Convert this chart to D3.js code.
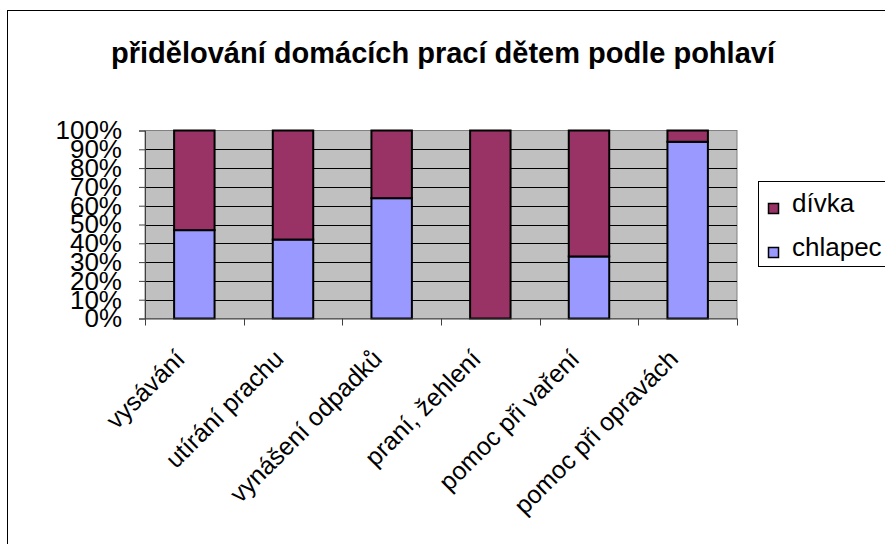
<!DOCTYPE html>
<html>
<head>
<meta charset="utf-8">
<script src="https://cdn.jsdelivr.net/npm/d3@7"></script>
<style>
  body { margin: 0; background: #fff; }
  text { font-family: "Liberation Sans", Arial, sans-serif; }
</style>
</head>
<body>
<div id="chart"></div>
<script>
const categories = ["vysávání", "utírání prachu", "vynášení odpadků", "praní, žehlení", "pomoc při vaření", "pomoc při opravách"];
const chlapec = [47, 42, 64, 0, 33, 94];
const divka = [53, 58, 36, 100, 67, 6];
const seriesNames = ["chlapec", "dívka"];
const yTicks = [0, 10, 20, 30, 40, 50, 60, 70, 80, 90, 100];

const COLORS = { "chlapec": "#9999FF", "dívka": "#993366" };

let width = 885;
let height = 544;

let svg = d3.select("#chart")
            .append("svg")
            .attr("width", width)
            .attr("height", height);

// outer chart frame (right and bottom edges run off the picture)
svg.append("rect")
   .attr("x", 7.5).attr("y", 10.5)
   .attr("width", 900).attr("height", 600)
   .attr("fill", "#fff")
   .attr("stroke", "#000");

svg.append("text")
   .attr("x", 443).attr("y", 63)
   .attr("text-anchor", "middle")
   .attr("font-size", "29px")
   .attr("font-weight", "bold")
   .text("přidělování domácích prací dětem podle pohlaví");

let plot = { left: 145, right: 737, top: 130.5, bottom: 318.5 };

let x = d3.scaleBand()
          .domain(categories)
          .range([plot.left, plot.right])
          .paddingInner(0.59)
          .paddingOuter(0.295);

let y = d3.scaleLinear()
          .domain([0, 100])
          .range([plot.bottom, plot.top]);

let rows = categories.map((c, i) => ({ cat: c, "chlapec": chlapec[i], "dívka": divka[i] }));
let stacked = d3.stack().keys(seriesNames)(rows);

// plot background
svg.append("rect")
   .attr("x", plot.left).attr("y", plot.top)
   .attr("width", plot.right - plot.left)
   .attr("height", plot.bottom - plot.top)
   .attr("fill", "#C0C0C0")
   .attr("stroke", "#808080");

// gridlines
svg.append("g")
   .selectAll("line")
   .data(yTicks.slice(1, -1))
   .enter()
   .append("line")
   .attr("x1", plot.left).attr("x2", plot.right)
   .attr("y1", d => Math.round(y(d)) + 0.5)
   .attr("y2", d => Math.round(y(d)) + 0.5)
   .attr("stroke", "#000");

// bars
svg.append("g")
   .selectAll("g")
   .data(stacked)
   .enter()
   .append("g")
   .attr("fill", d => COLORS[d.key])
   .selectAll("rect")
   .data(d => d)
   .enter()
   .append("rect")
   .attr("x", d => x(d.data.cat))
   .attr("y", d => y(d[1]))
   .attr("width", x.bandwidth())
   .attr("height", d => y(d[0]) - y(d[1]))
   .attr("stroke", "#000")
   .attr("stroke-width", 2);

// y axis
let yAxis = svg.append("g")
   .attr("transform", `translate(${plot.left},0)`)
   .call(d3.axisLeft(y).tickValues(yTicks).tickFormat(d => d + "%").tickSize(6).tickPadding(17));
yAxis.select(".domain").attr("stroke", "#404040");
yAxis.selectAll(".tick line").attr("stroke", "#404040");
yAxis.selectAll("text")
     .attr("font-size", "26px")
     .attr("font-family", "Liberation Sans, Arial, sans-serif")
     .attr("fill", "#000");

// x axis
let xTickPos = d3.range(categories.length + 1).map(i => plot.left + i * (plot.right - plot.left) / categories.length);
let xAxis = svg.append("g");
xAxis.append("line")
     .attr("x1", plot.left).attr("x2", plot.right)
     .attr("y1", plot.bottom + 0.5).attr("y2", plot.bottom + 0.5)
     .attr("stroke", "#404040");
xAxis.selectAll("line.tick")
     .data(xTickPos)
     .enter()
     .append("line")
     .attr("class", "tick")
     .attr("x1", d => Math.round(d) + 0.5).attr("x2", d => Math.round(d) + 0.5)
     .attr("y1", plot.bottom).attr("y2", plot.bottom + 7)
     .attr("stroke", "#404040");
xAxis.selectAll("text")
     .data(categories)
     .enter()
     .append("text")
     .attr("transform", d => `translate(${x(d) + x.bandwidth() / 2 - 8},${plot.bottom + 42}) rotate(-45)`)
     .attr("text-anchor", "end")
     .attr("font-size", "25px")
     .text(d => d);

// legend
let legend = svg.append("g");
legend.append("rect")
      .attr("x", 758.5).attr("y", 181.5)
      .attr("width", 140).attr("height", 85)
      .attr("fill", "#fff")
      .attr("stroke", "#000");
let legendItems = ["dívka", "chlapec"];
legend.selectAll("g")
      .data(legendItems)
      .enter()
      .append("g")
      .attr("transform", (d, i) => `translate(768,${203 + i * 44})`)
      .each(function (d) {
        let g = d3.select(this);
        g.append("rect")
         .attr("x", 0.5).attr("y", 0.5)
         .attr("width", 10).attr("height", 10)
         .attr("fill", COLORS[d])
         .attr("stroke", "#000")
         .attr("stroke-width", 1.5);
        g.append("text")
         .attr("x", 24).attr("y", 9)
         .attr("font-size", "26px")
         .text(d);
      });
</script>
</body>
</html>
